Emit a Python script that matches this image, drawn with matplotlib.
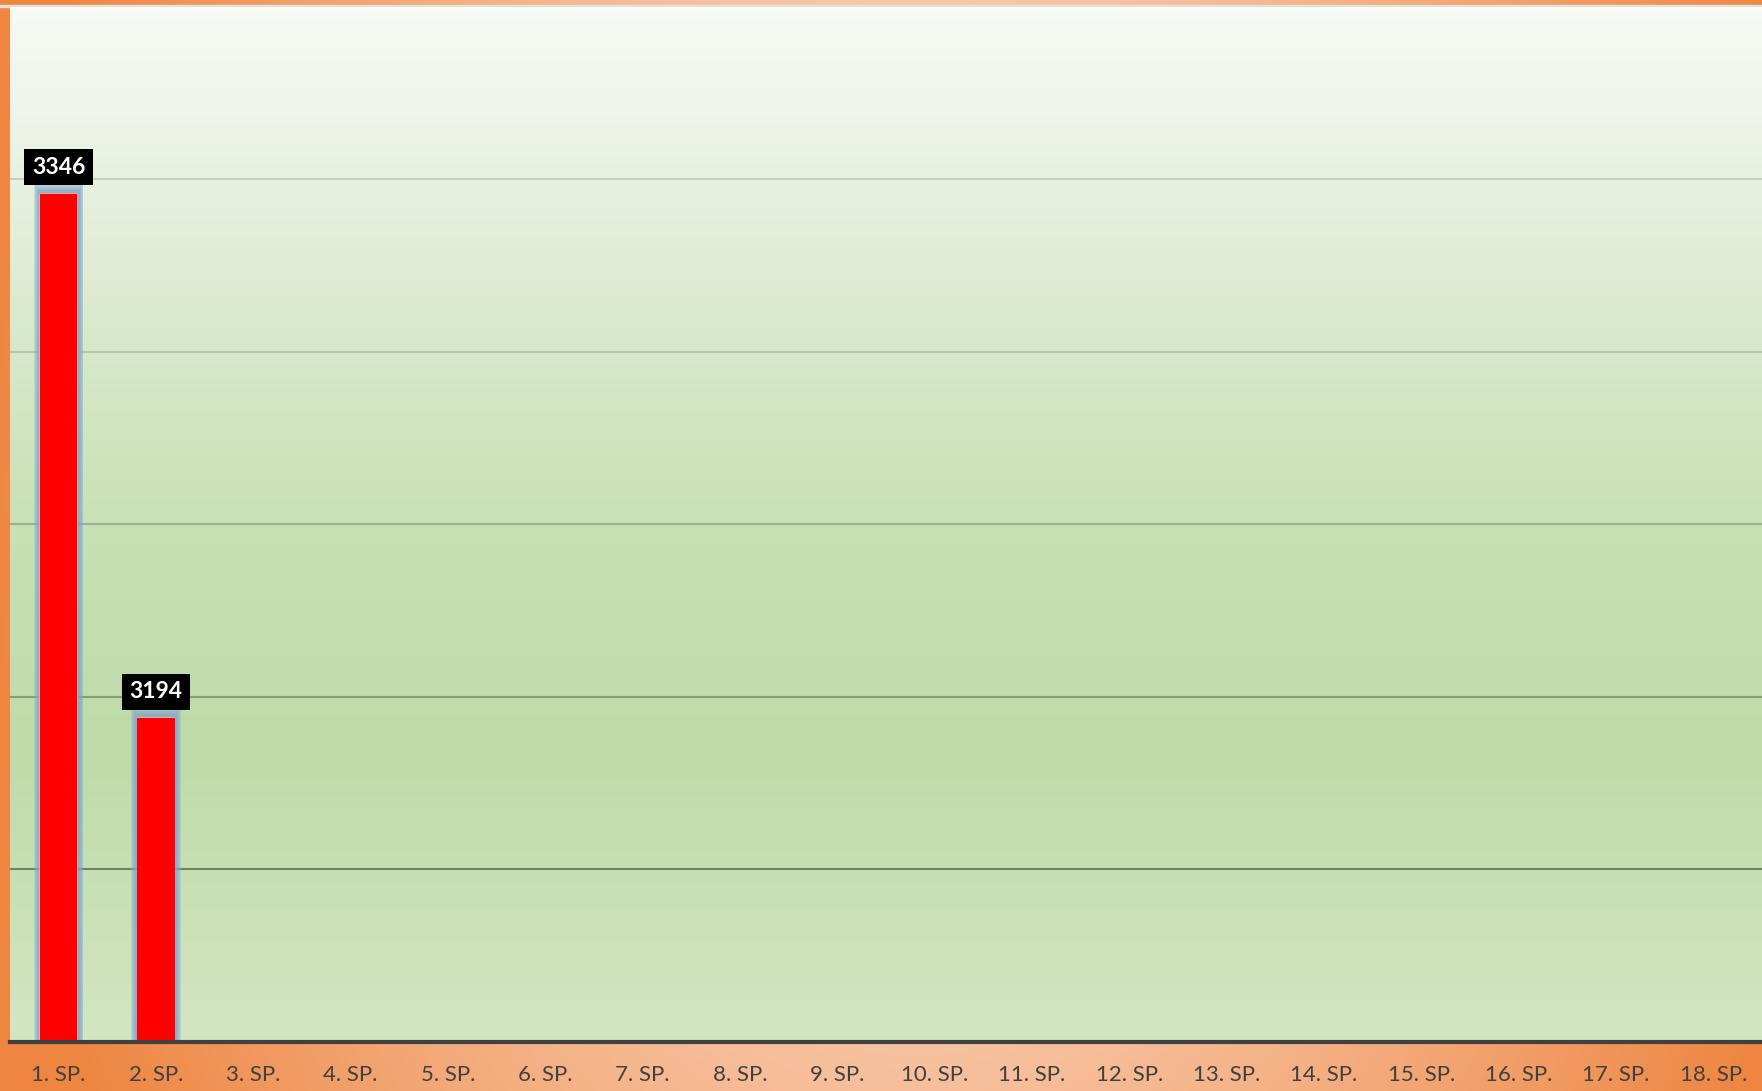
import numpy as np
import matplotlib
matplotlib.use("Agg")
import matplotlib.pyplot as plt
from matplotlib.colors import LinearSegmentedColormap, to_rgb

plt.rcParams['font.family'] = ['Lato', 'DejaVu Sans']

# data
kategorie = [f"{i}. SP." for i in range(1, 19)]
hodnoty = [3346, 3194] + [np.nan] * 16
y_min, y_max, y_krok = 3100, 3400, 50

W, H, DPI = 1762, 1091, 100
fig = plt.figure(figsize=(W / DPI, H / DPI), dpi=DPI)

# orange frame background
bg = fig.add_axes([0, 0, 1, 1], zorder=-10)
bg.axis('off')
gx, gy = np.meshgrid(np.linspace(0, 1, 400), np.linspace(0, 1, 250))
t = np.clip(np.sqrt(((gx - 0.52) / 0.5) ** 2 * 0.9 + ((gy - 0.55) / 0.6) ** 2 * 0.25), 0, 1)
c_light = np.array(to_rgb('#FCE3D3'))
c_dark = np.array(to_rgb('#EE8642'))
img = c_light + (c_dark - c_light) * (t[..., None] ** 1.2)
bg.imshow(img, extent=[0, 1, 0, 1], aspect='auto', origin='lower')
bg.set_xlim(0, 1)
bg.set_ylim(0, 1)
# thin grey strip under the top border
bg.axhspan(1 - 7 / H, 1 - 5 / H, color='#E2E2DC', zorder=2)

ax = fig.add_axes([10 / W, 1 - 1041.5 / H, 1 - 10 / W, (1041.5 - 7) / H])
ax.set_facecolor('none')

# green vertical gradient inside plot area
green = LinearSegmentedColormap.from_list('g', [
    (0.0, '#D3E6C3'), (0.28, '#BEDBA9'), (0.5, '#C8E1B5'),
    (0.7, '#DAEACD'), (0.85, '#E9F2E2'), (1.0, '#F8FAF5')])
grad = np.linspace(0, 1, 256)[:, None]
ax.imshow(grad, cmap=green, extent=[0, 1, 0, 1], transform=ax.transAxes,
          aspect='auto', origin='lower', zorder=0)

x = np.arange(len(kategorie))
ax.set_xlim(-0.5, len(kategorie) - 0.5)
ax.set_ylim(y_min, y_max)

# gridlines, darker towards the bottom
grid_barvy = ['#6F8166', '#8A9A80', '#A0AE98', '#B9C4B1', '#C9CEC2']
for yv, col in zip(range(y_min + y_krok, y_max, y_krok), grid_barvy):
    ax.axhline(yv, color=col, lw=1.5, zorder=1)

# bars with a soft blue glow
sirka = 0.39
for k in range(6, 0, -1):
    ax.bar(x, np.array(hodnoty) + k * 0.45, width=sirka + k * 0.02,
           color='#7FA8CF', alpha=0.28, linewidth=0, zorder=2)
ax.bar(x, hodnoty, width=sirka + 0.006, color='#F4A3A3', linewidth=0, zorder=3)
ax.bar(x, np.array(hodnoty) - 0.2, width=sirka - 0.004, color='#FF0000', linewidth=0, zorder=4)

for xi, v in zip(x, hodnoty):
    if np.isnan(v):
        continue
    ax.annotate(f"{v:.0f}", (xi, v), xytext=(0, 11), textcoords='offset points',
                ha='center', va='bottom', color='white', fontsize=16.5,
                fontweight='bold', zorder=6,
                bbox=dict(boxstyle='square,pad=0.33', fc='black', ec='none'))

ax.set_xticks(x)
ax.set_xticklabels(kategorie, fontsize=16, color='#404040')
ax.tick_params(axis='x', length=0, pad=17)
ax.set_yticks([])
for s in ['left', 'right', 'top']:
    ax.spines[s].set_visible(False)
ax.spines['bottom'].set_color('#404040')
ax.spines['bottom'].set_linewidth(3)
ax.spines['bottom'].set_zorder(5)

fig.savefig('out.png', dpi=DPI)
